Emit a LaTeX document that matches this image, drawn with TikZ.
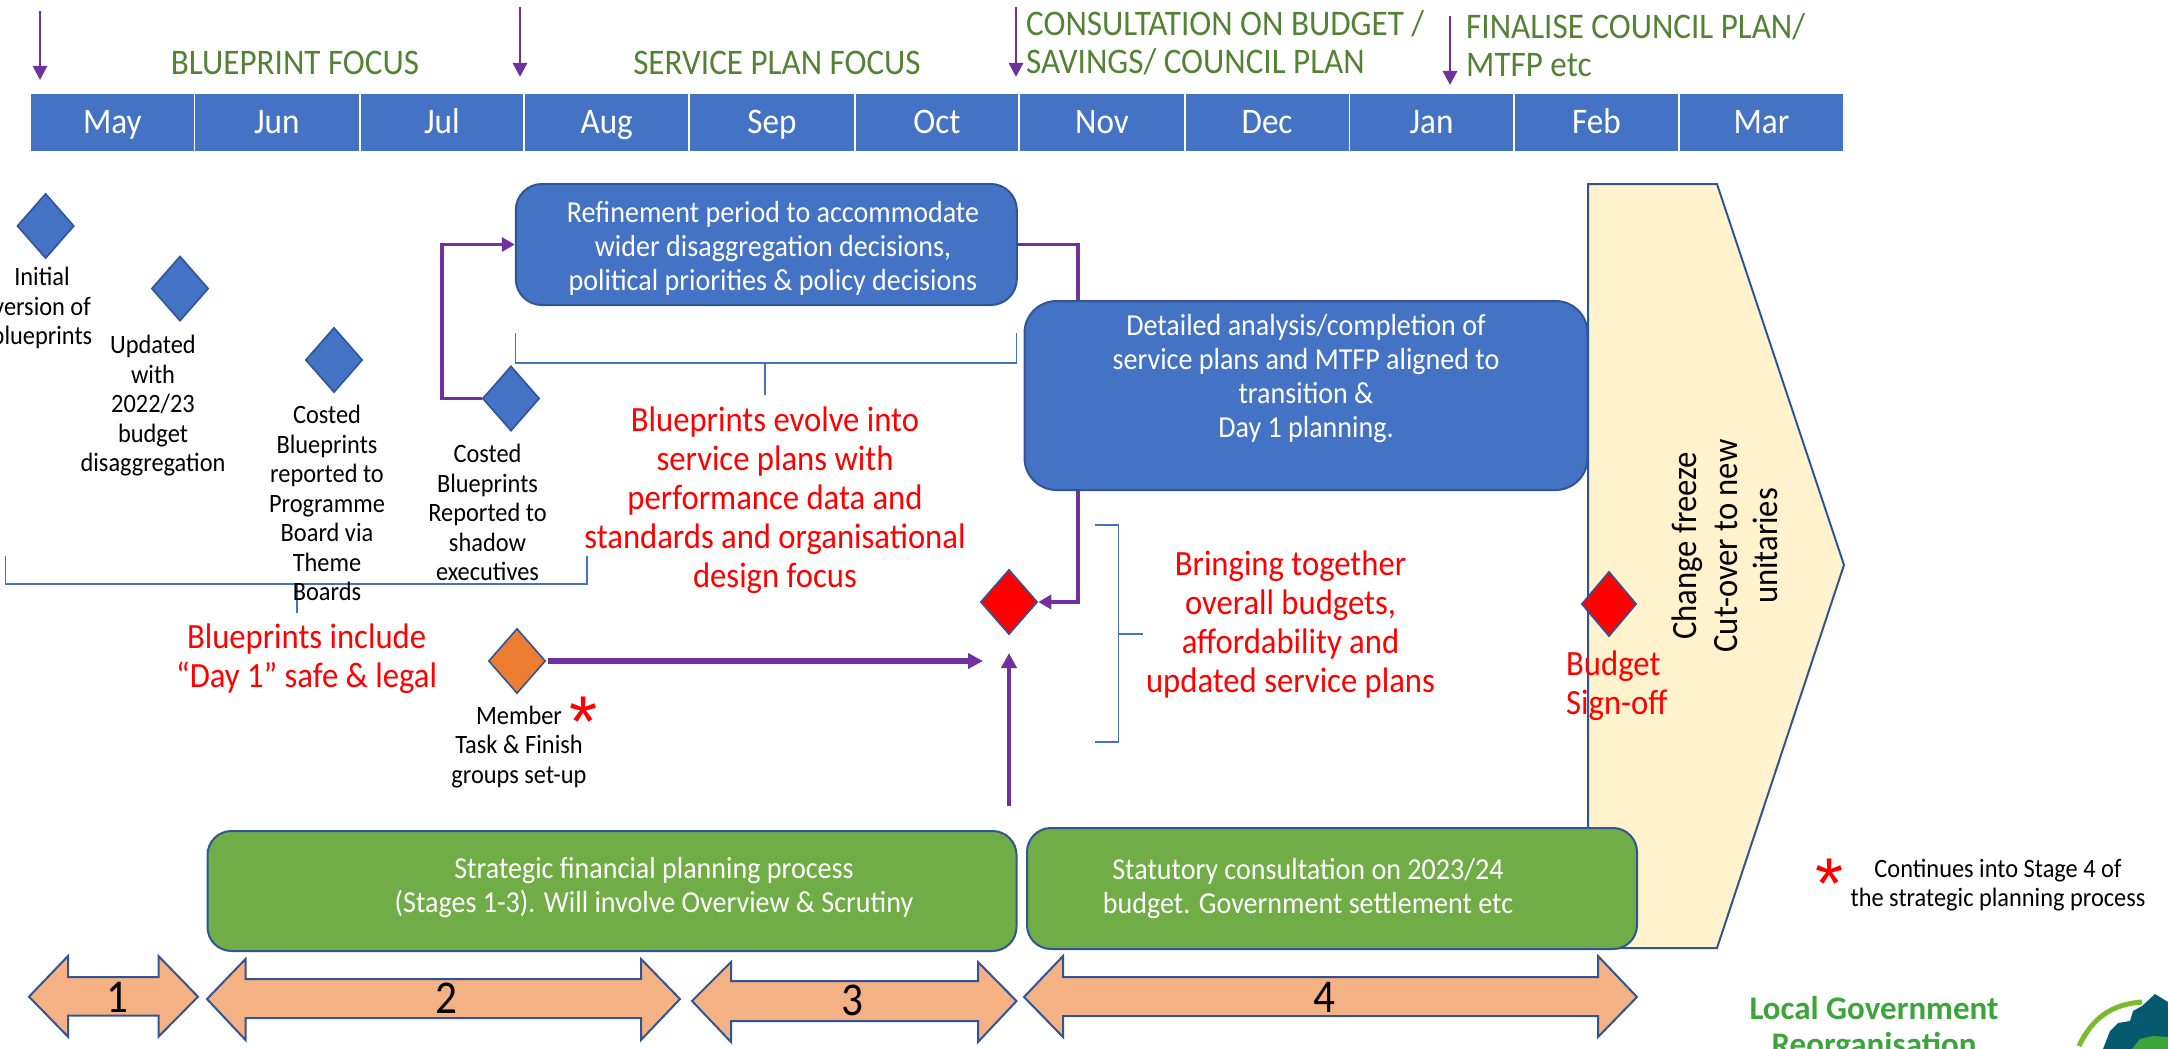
\documentclass[tikz,border=0pt]{standalone}
\usepackage{fontspec}
\setmainfont[FakeStretch=0.92]{Carlito}
\newfontfamily\logofont{Carlito}
\newfontfamily\starfont{Liberation Sans}
\usetikzlibrary{shapes.geometric,arrows.meta}
\newcommand{\FS}[2]{\fontsize{#1pt}{#2pt}\selectfont}
\definecolor{pblue}{HTML}{4472C4}
\definecolor{pstroke}{HTML}{2F5597}
\definecolor{ppurple}{HTML}{7030A0}
\definecolor{phead}{HTML}{548235}
\definecolor{pgreen}{HTML}{70AD47}
\definecolor{porange}{HTML}{ED7D31}
\definecolor{ppeach}{HTML}{F4B183}
\definecolor{pcream}{HTML}{FFF2CC}
\definecolor{plogo}{HTML}{3BA53B}
\definecolor{pteal}{HTML}{065A70}
\definecolor{parc}{HTML}{7DB92E}
\tikzset{
  x=1pt,y=-1pt,
  month/.style={fill=pblue,text=white,inner sep=0pt,font=\FS{36}{40}},
  headtext/.style={text=phead,inner sep=0pt,font=\FS{36}{38.5},align=left},
  markarrow/.style={draw=ppurple,line width=2.8pt,-{Triangle[width=14pt,length=14pt]}},
  flow/.style={draw=ppurple,line width=3.8pt,-{Triangle[width=14pt,length=13pt]}},
  bigflow/.style={draw=ppurple,line width=5.5pt,-{Triangle[width=15pt,length=15pt]}},
  mile/.style={diamond,draw=pstroke,line width=1.6pt,fill=pblue,minimum width=57pt,minimum height=65pt,inner sep=0pt},
  redmile/.style={mile,fill=red},
  orangemile/.style={mile,fill=porange},
  bluebox/.style={rectangle,rounded corners=26pt,draw=pstroke,line width=2pt,fill=pblue,inner sep=0pt},
  greenbox/.style={rectangle,rounded corners=24pt,draw=pstroke,line width=2pt,fill=pgreen,inner sep=0pt},
  boxtext/.style={text=white,inner sep=0pt,align=center,font=\FS{30.5}{34}},
  redtext/.style={text=red,inner sep=0pt,align=center,font=\FS{35.5}{39}},
  blacklabel/.style={text=black,inner sep=0pt,align=center,font=\FS{26.5}{29.5}},
  brack/.style={draw=pblue,line width=1.1pt},
  stage/.style={draw=pstroke,line width=2pt,fill=ppeach},
  stagenum/.style={text=black,inner sep=0pt,font=\FS{47}{48}},
  starmark/.style={text=red,inner sep=0pt,font=\starfont\FS{72}{72}},
}
\newcommand{\stagearrow}[9]{%
  \draw[stage] (#1,#7) -- (#2,#5) -- (#2,#6) -- (#3,#6) -- (#3,#5) -- (#4,#7)
    -- (#3,#9) -- (#3,#8) -- (#2,#8) -- (#2,#9) -- cycle;}
\begin{document}
\begin{tikzpicture}
\path[use as bounding box,clip] (0,0) rectangle (2168,1049);
% month bar
\foreach \nm/\lab/\a/\b in {m5/May/31/193.6,m6/Jun/195/358.5,m7/Jul/360.6/523.3,m8/Aug/525.4/688,m9/Sep/690/854,m10/Oct/856/1018,m11/Nov/1020/1184,m12/Dec/1185.5/1348.6,m1/Jan/1350/1513,m2/Feb/1515/1678,m3/Mar/1680/1843}{
  \pgfmathsetmacro{\cellx}{(\a+\b)/2}\pgfmathsetmacro{\cellw}{\b-\a}
  \node[month,minimum width=\cellw pt,minimum height=57.5pt,text height=28pt,text depth=7pt] (\nm) at (\cellx,122.7) {\lab};
}
% top markers
\coordinate (a1s) at (40,11); \coordinate (a1e) at (40,80);
\coordinate (a2s) at (520,7); \coordinate (a2e) at (520,77);
\coordinate (a3s) at (1016,7); \coordinate (a3e) at (1016,77);
\coordinate (a4s) at (1450,16); \coordinate (a4e) at (1450,85);
\draw[markarrow] (a1s) -- (a1e);
\draw[markarrow] (a2s) -- (a2e);
\draw[markarrow] (a3s) -- (a3e);
\draw[markarrow] (a4s) -- (a4e);
\node[headtext] (h1) at (295,63) {BLUEPRINT FOCUS};
\node[headtext] (h2) at (777,63) {SERVICE PLAN FOCUS};
\node[headtext,anchor=west] (h3) at (1026,43) {CONSULTATION ON BUDGET /\\SAVINGS/ COUNCIL PLAN};
\node[headtext,anchor=west] (h4) at (1466,45) {FINALISE COUNCIL PLAN/\\MTFP etc};
% yellow change freeze
\draw[fill=pcream,draw=pstroke,line width=2pt] (1588,184) -- (1717,184) -- (1844,565) -- (1717,948) -- (1588,948) -- cycle;
\node[text=black,inner sep=0pt,rotate=90,align=center,font=\FS{35.5}{40.5}] (freeze) at (1725,546) {Change freeze\\Cut-over to new\\unitaries};
% brackets
\coordinate (br1a) at (515.6,333); \coordinate (br1b) at (1016.5,333);
\coordinate (br1m) at (765,363); \coordinate (br1s) at (765,395);
\draw[brack] (br1a) -- (515.6,363) -- (1016.5,363) -- (br1b);
\draw[brack] (br1m) -- (br1s);
\coordinate (br2a) at (5.6,556); \coordinate (br2b) at (587,556);
\coordinate (br2m) at (297,584); \coordinate (br2s) at (297,613);
\draw[brack] (br2a) -- (5.6,584) -- (587,584) -- (br2b);
\draw[brack] (br2m) -- (br2s);
\coordinate (br3a) at (1095,525); \coordinate (br3b) at (1095,742);
\coordinate (br3m) at (1118.5,634); \coordinate (br3s) at (1143,634);
\draw[brack] (br3a) -- (1118.5,525) -- (1118.5,742) -- (br3b);
\draw[brack] (br3m) -- (br3s);
% milestones
\node[mile] (d1) at (45.6,226) {};
\node[mile] (d2) at (180,288.6) {};
\node[mile] (d3) at (334,360) {};
\node[mile] (d4) at (511,398.5) {};
\node[redmile] (rd1) at (1009,602) {};
\node[orangemile] (od) at (517,661) {};
% refinement box and connectors
\node[bluebox,minimum width=501pt,minimum height=121pt] (refine) at (766.3,244.5) {};
\node[boxtext] (refineT) at (773,248) {Refinement period to accommodate\\wider disaggregation decisions,\\political priorities \& policy decisions};
\coordinate (elbowA) at (442,398.5);
\coordinate (elbowB) at (1078,400);
\draw[flow] (d4.west) -- (elbowA) |- (refine.west);
\draw[flow] (refine.east) -| (elbowB) |- (rd1.east);
\node[bluebox,rounded corners=32pt,minimum width=563pt,minimum height=189pt] (detail) at (1306,395.5) {};
\node[boxtext] (detailT) at (1306,379) {Detailed analysis/completion of\\service plans and MTFP aligned to\\transition \&\\Day 1 planning.};
% orange and up arrows
\coordinate (oe) at (983,661);
\coordinate (os) at (548,661);
\draw[bigflow] (os) -- (oe);
\coordinate (us) at (1009,806); \coordinate (ue) at (1009,653);
\draw[bigflow,line width=4.6pt] (us) -- (ue);
% red text
\node[redtext] (rt1) at (775,500) {Blueprints evolve into\\service plans with\\performance data and\\standards and organisational\\design focus};
\node[redtext] (rt2) at (306.6,659) {Blueprints include\\“Day 1” safe \& legal};
\node[redtext] (rt3) at (1290.5,625) {Bringing together\\overall budgets,\\affordability and\\updated service plans};
% black labels
\node[blacklabel] (l1) at (42,308) {Initial\\version of\\blueprints};
\node[blacklabel] (l2) at (153,406) {Updated\\with\\2022/23\\budget\\disaggregation};
\node[blacklabel] (l3) at (327,503) {Costed\\Blueprints\\reported to\\Programme\\Board via\\Theme\\Boards};
\node[blacklabel] (l4) at (487.5,512.5) {Costed\\Blueprints\\Reported to\\shadow\\executives};
\node[blacklabel] (l5) at (519,747) {Member\\Task \& Finish\\groups set-up};
\node[starmark] (st1) at (584,722) {*};
% green boxes
\node[greenbox,minimum width=809pt,minimum height=120pt] (strat) at (612,891) {};
\node[boxtext] (stratT) at (654,888) {Strategic financial planning process\\(Stages 1-3). Will involve Overview \& Scrutiny};
\node[greenbox,minimum width=610pt,minimum height=121pt] (stat) at (1332,888.5) {};
\node[boxtext] (statT) at (1308,888.5) {Statutory consultation on 2023/24\\budget. Government settlement etc};
% budget sign-off
\node[redmile,minimum width=55pt] (rd2) at (1609,604) {};
\node[redtext,anchor=west,align=left] (rt4) at (1566,686) {Budget\\Sign-off};
% stage arrows
\stagearrow{29}{68}{158.5}{198}{956}{977}{996.7}{1015.7}{1036.7}
\node[stagenum] (s1) at (117,997) {1};
\stagearrow{207}{245.5}{641}{680}{959}{979}{999}{1018}{1040}
\node[stagenum] (s2) at (446,998) {2};
\stagearrow{692}{731}{978}{1016.5}{962}{981}{1001}{1021}{1042}
\node[stagenum] (s3) at (852,1000) {3};
\stagearrow{1024}{1063}{1598}{1637}{956}{977}{997}{1016}{1037}
\node[stagenum] (s4) at (1324,997) {4};
% footnote
\node[starmark] (st2) at (1829,884) {*};
\node[blacklabel] (fn) at (1998,885) {Continues into Stage 4 of\\the strategic planning process};
% logo
\node[text=plogo,inner sep=0pt,align=center,font=\logofont\bfseries\FS{33}{36}] (logoT) at (1874,1029) {Local Government\\Reorganisation};
\draw[parc,line width=5pt] (2079,1046) .. controls (2092,1018) and (2112,1004) .. (2142,1002);
\fill[pteal] (2103,1049) -- (2110,1031) -- (2118,1023) -- (2130,1021) -- (2133,1011) -- (2142,1006) -- (2155,994) -- (2168,1002) -- (2168,1049) -- cycle;
\fill[plogo] (2132,1049) -- (2140,1039) -- (2153,1036) -- (2168,1037) -- (2168,1049) -- cycle;
\end{tikzpicture}
\end{document}
